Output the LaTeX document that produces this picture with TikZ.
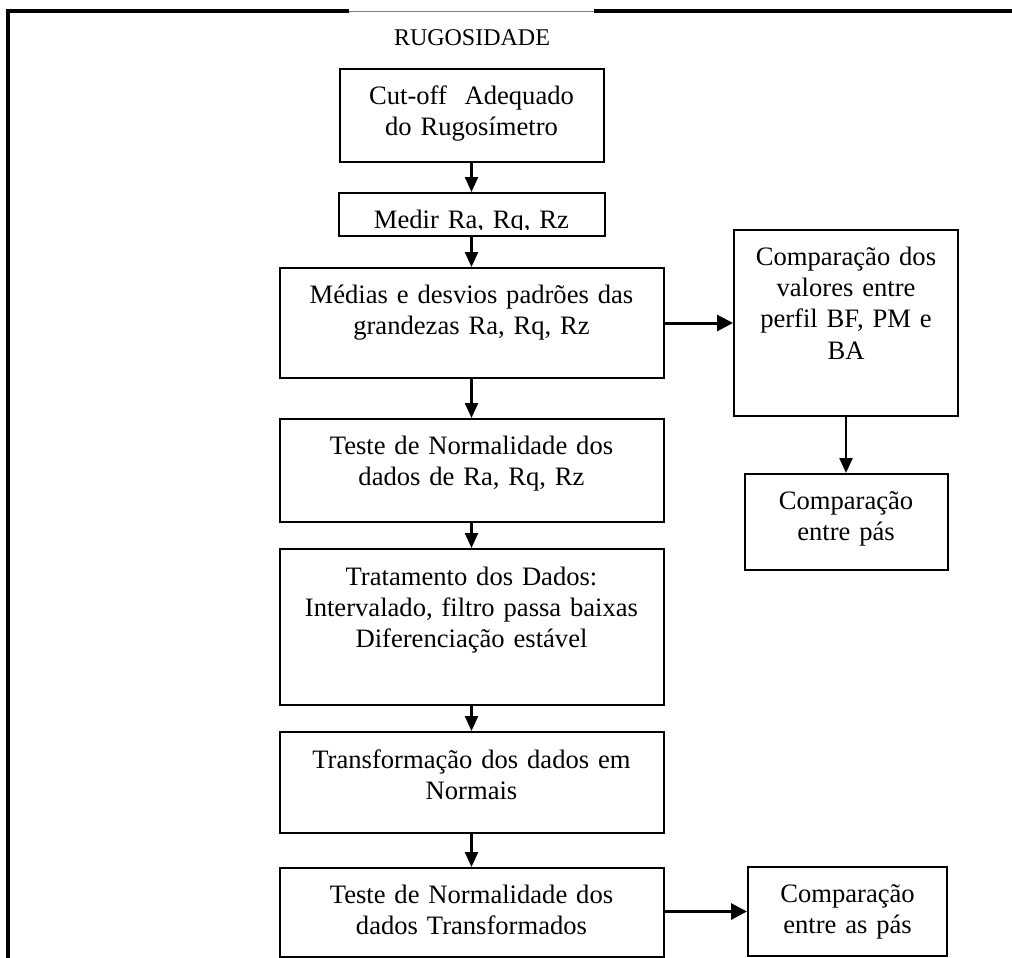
\documentclass[tikz,border=0pt]{standalone}
\usepackage{fontspec}
\setmainfont{Liberation Serif}
\usetikzlibrary{arrows.meta}

\tikzset{
  box/.style={draw, line width=1pt, rectangle, inner sep=0pt, minimum width=192pt},
  lbl/.style={inner sep=0pt, text width=#1, align=center, anchor=base,
              font=\fontsize{13.3pt}{15.7pt}\selectfont},
  lbl/.default=190pt,
  flow/.style={line width=1.2pt, -{Triangle[length=7.5pt,width=6.5pt]}},
  flowh/.style={line width=1.5pt, -{Triangle[length=8pt,width=8pt]}},
  frameline/.style={line width=1.6pt}
}

\begin{document}
\begin{tikzpicture}[x=0.5pt, y=-0.5pt]
\useasboundingbox (0,0) rectangle (1012,958);

% outer frame (open on the right and at the bottom)
\draw[frameline] (8,958) -- (8,11) -- (349,11);
\draw[frameline] (594,11) -- (1012,11);
\draw[gray, line width=0.5pt] (349,11) -- (594,11);

\node[font=\fontsize{12pt}{14pt}\selectfont] (title) at (472,38) {RUGOSIDADE};

% main column
\node[box, minimum width=132pt, minimum height=46.5pt] (cut) at (471.5,115.5) {};
\node[lbl=130pt] (cut-t) at ([yshift=-18pt]cut.north) {Cut-off\ \ Adequado\\do Rugosímetro};

\node[box, minimum width=133pt, minimum height=21.5pt] (medir) at (471.5,214.5) {};
\begin{scope}
  \clip (300,190) rectangle (640,229.5);
  \node[lbl=130pt] (medir-t) at ([yshift=-18pt]medir.north) {Medir Ra, Rq, Rz};
\end{scope}

\node[box, minimum height=55pt] (medias) at (471.5,323) {};
\node[lbl] (medias-t) at ([yshift=-18pt]medias.north) {Médias e desvios padrões das\\grandezas Ra, Rq, Rz};

\node[box, minimum height=51.5pt] (teste) at (471.5,470.5) {};
\node[lbl] (teste-t) at ([yshift=-18pt]teste.north) {Teste de Normalidade dos\\dados de Ra, Rq, Rz};

\node[box, minimum height=78pt] (trat) at (471.5,627) {};
\node[lbl] (trat-t) at ([yshift=-18.5pt]trat.north) {Tratamento dos Dados:\\Intervalado, filtro passa baixas\\Diferenciação estável};

\node[box, minimum height=50.5pt] (transf) at (471.5,782.5) {};
\node[lbl] (transf-t) at ([yshift=-18.5pt]transf.north) {Transformação dos dados em\\Normais};

\node[box, minimum height=44.5pt] (testet) at (471.5,912.5) {};
\node[lbl] (testet-t) at ([yshift=-18pt]testet.north) {Teste de Normalidade dos\\dados Transformados};

% right column
\node[box, minimum width=112pt, minimum height=93pt] (compval) at (846,323) {};
\node[lbl=110pt] (compval-t) at ([yshift=-18pt]compval.north) {Comparação dos\\valores entre\\perfil BF, PM e\\BA};

\node[box, minimum width=101.5pt, minimum height=48pt] (comppas) at (846,522) {};
\node[lbl=100pt] (comppas-t) at ([yshift=-18pt]comppas.north) {Comparação\\entre pás};

\node[box, minimum width=99.5pt, minimum height=44.5pt] (compas) at (847.5,911.5) {};
\node[lbl=97pt] (compas-t) at ([yshift=-18pt]compas.north) {Comparação\\entre as pás};

% connectors
\draw[flow] (cut) -- (medir);
\draw[flow] (medir) -- (medias);
\draw[flow] (medias) -- (teste);
\draw[flow] (teste) -- (trat);
\draw[flow] (trat) -- (transf);
\draw[flow] (transf) -- (testet);
\draw[flowh] (medias) -- (compval);
\draw[flow] (compval) -- (comppas);
\draw[flowh] (testet.east |- compas) -- (compas);
\end{tikzpicture}
\end{document}
